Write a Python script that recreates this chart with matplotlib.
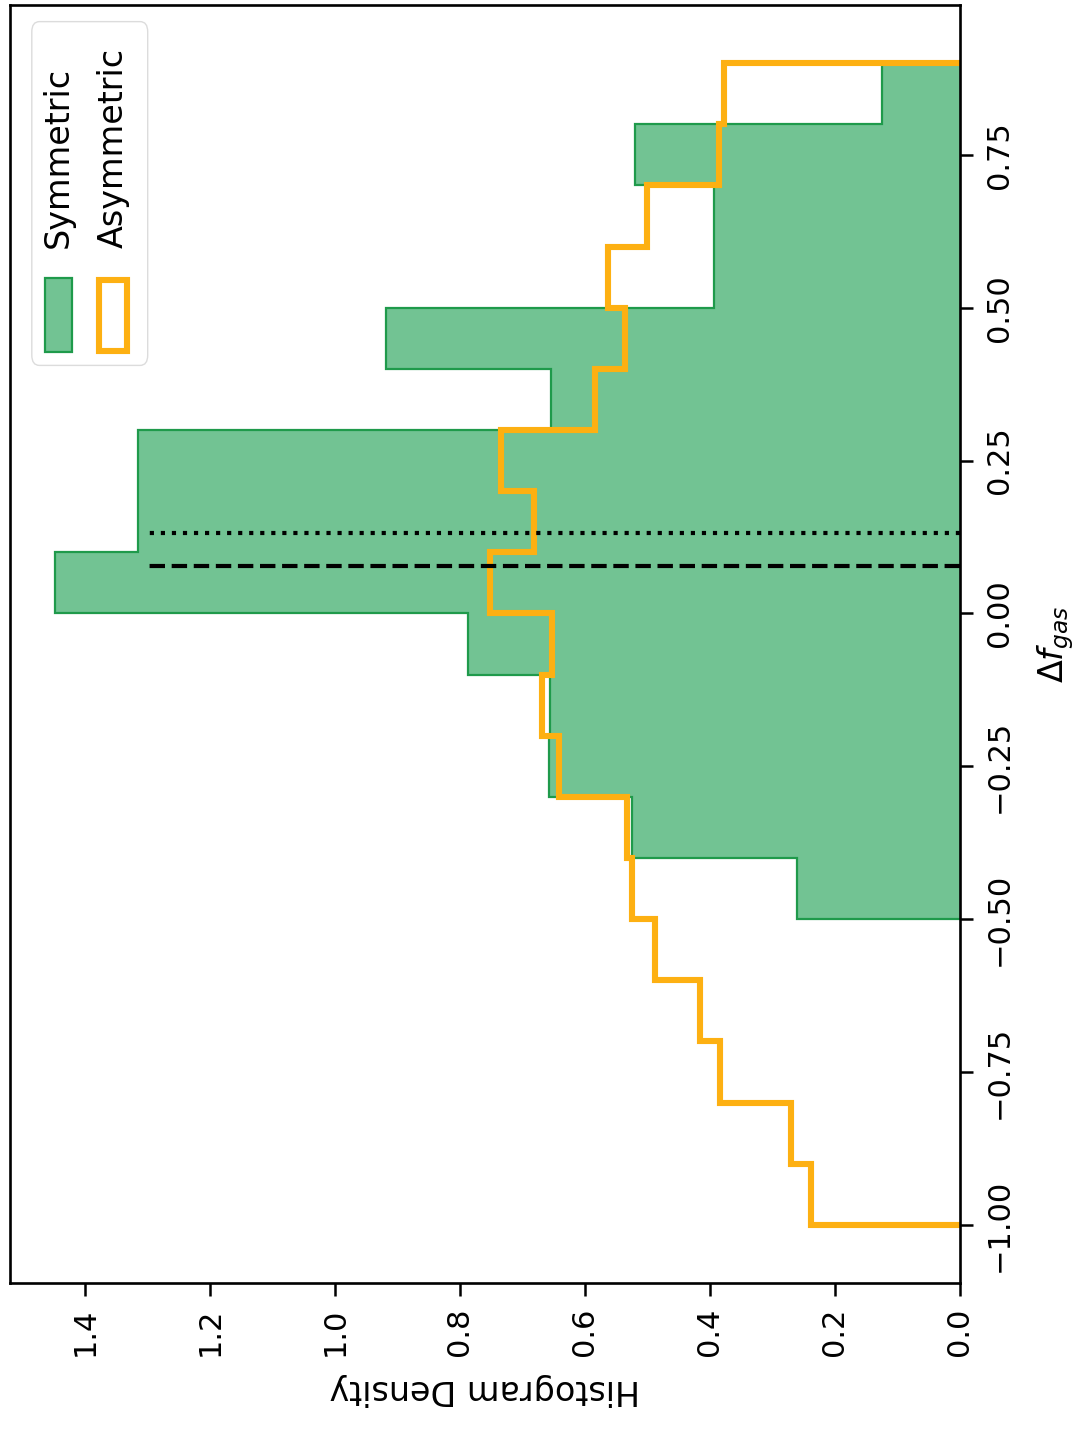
import numpy as np
import matplotlib
matplotlib.use('Agg')
import matplotlib.pyplot as plt
from matplotlib.patches import Rectangle, FancyBboxPatch

plt.rcParams['font.family'] = ['DejaVu Sans']

# Histogram bins (Delta f_gas) and densities
asym_edges = [-1.0, -0.9, -0.8, -0.7, -0.6, -0.5, -0.4, -0.3, -0.2, -0.1,
              0.0, 0.1, 0.2, 0.3, 0.4, 0.5, 0.6, 0.7, 0.8, 0.9]
asym_density = [0.239, 0.271, 0.384, 0.416, 0.488, 0.525, 0.533, 0.642,
                0.669, 0.652, 0.752, 0.682, 0.735, 0.584, 0.536, 0.563,
                0.500, 0.385, 0.377]

sym_edges = [-0.5, -0.4, -0.3, -0.2, -0.1, 0.0, 0.1, 0.2, 0.3, 0.4, 0.5,
             0.6, 0.7, 0.8, 0.9]
sym_density = [0.260, 0.525, 0.657, 0.656, 0.787, 1.448, 1.315, 1.315,
               0.655, 0.918, 0.393, 0.393, 0.520, 0.124]

# mean markers
sym_line = 0.077    # dashed
asym_line = 0.131   # dotted
line_top = 1.30

dens_ticks = [0.0, 0.2, 0.4, 0.6, 0.8, 1.0, 1.2, 1.4]
df_ticks = [-1.0, -0.75, -0.5, -0.25, 0.0, 0.25, 0.5, 0.75]

green_fill = '#72c393'
green_edge = '#1f9a4b'
orange = '#fdb012'

fig = plt.figure(figsize=(10.82, 14.33), dpi=100)
ax = fig.add_axes([0.0092, 0.1047, 0.8780, 0.8918])

# page is rotated: Delta f_gas runs upward, density runs leftward
ax.stairs(sym_density, sym_edges, orientation='horizontal', fill=True,
          facecolor=green_fill, edgecolor=green_edge, linewidth=1.6)
ax.stairs(asym_density, asym_edges, orientation='horizontal', fill=False,
          edgecolor=orange, linewidth=4.4)
ax.hlines(sym_line, 0, line_top, colors='black', linestyles='--', lw=3)
ax.hlines(asym_line, 0, line_top, colors='black', linestyles=':', lw=3)

ax.set_xlim(1.52, 0)
ax.set_ylim(-1.095, 0.995)

ax.set_xticks(dens_ticks)
ax.set_yticks(df_ticks)
ax.yaxis.tick_right()
ax.yaxis.set_label_position('right')
ax.tick_params(axis='both', length=9, width=1.8, labelsize=22,
               labelrotation=90, pad=9)
for lab in ax.get_yticklabels():
    lab.set_va('center')

for sp in ax.spines.values():
    sp.set_linewidth(1.9)

ax.set_xlabel('Histogram Density', fontsize=24, rotation=180, labelpad=12)
ax.set_ylabel(r'$\Delta f_{gas}$', fontsize=24, rotation=90, labelpad=15)

# legend, drawn by hand so that it turns with the page
ax.add_patch(FancyBboxPatch((0.023, 0.718), 0.122, 0.269,
                            boxstyle='round,pad=0,rounding_size=0.008',
                            transform=ax.transAxes, facecolor='white',
                            edgecolor='#dcdcdc', lw=1.0, zorder=5))
ax.add_patch(Rectangle((0.037, 0.7285), 0.028, 0.0575,
                       transform=ax.transAxes, facecolor=green_fill,
                       edgecolor=green_edge, lw=1.6, zorder=6))
ax.add_patch(Rectangle((0.094, 0.729), 0.029, 0.0555,
                       transform=ax.transAxes, facecolor='none',
                       edgecolor=orange, lw=4.4, zorder=6))
ax.text(0.0505, 0.810, 'Symmetric', transform=ax.transAxes, fontsize=24,
        rotation=90, rotation_mode='anchor', ha='left', va='center', zorder=7)
ax.text(0.1085, 0.810, 'Asymmetric', transform=ax.transAxes, fontsize=24,
        rotation=90, rotation_mode='anchor', ha='left', va='center', zorder=7)

fig.savefig('out.png', dpi=100)
